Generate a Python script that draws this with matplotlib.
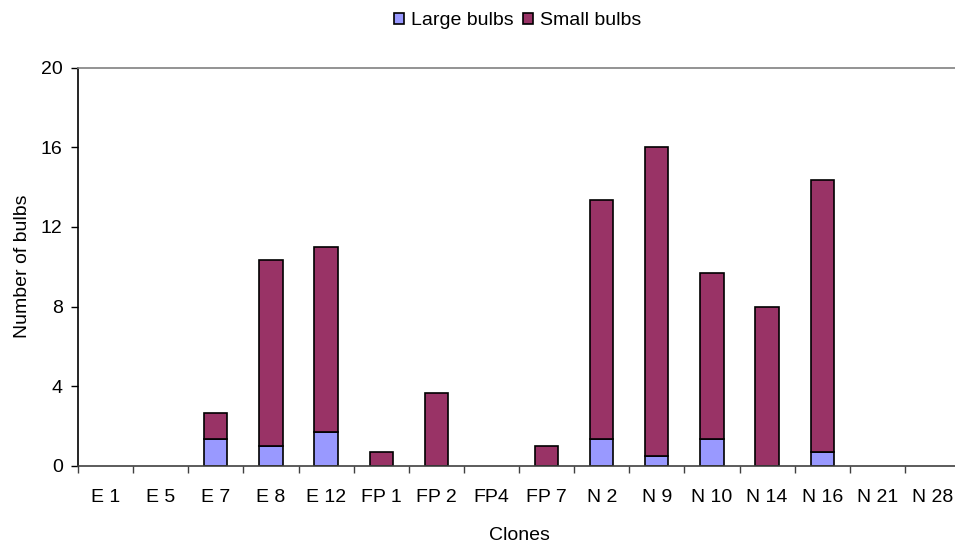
import matplotlib.pyplot as plt
import numpy as np

plt.rcParams['font.family'] = ['Liberation Sans', 'DejaVu Sans']

clones = ["E 1", "E 5", "E 7", "E 8", "E 12", "FP 1", "FP 2", "FP4", "FP 7",
          "N 2", "N 9", "N 10", "N 14", "N 16", "N 21", "N 28"]
large_bulbs = [0, 0, 1.33, 1.0, 1.67, 0, 0, 0, 0, 1.33, 0.5, 1.33, 0, 0.67, 0, 0]
small_bulbs = [0, 0, 1.33, 9.33, 9.33, 0.67, 3.67, 0, 1.0, 12.0, 15.5, 8.33, 8.0, 13.67, 0, 0]

fig = plt.figure(figsize=(9.55, 5.46), dpi=100)
# plot area runs a little past the right edge of the figure
ax = fig.add_axes([78 / 955, 80.3 / 546, 882 / 955, 398 / 546])

x = np.arange(len(clones))
lg = np.array(large_bulbs)
sm = np.array(small_bulbs)
w = 0.42
# skip empty segments so no outline sits on the axis
m = lg > 0
ax.bar(x[m], lg[m], w, color="#9999FF", edgecolor="black", linewidth=1.2,
       label="Large bulbs")
m = sm > 0
ax.bar(x[m], sm[m], w, bottom=lg[m], color="#993366", edgecolor="black",
       linewidth=1.2, label="Small bulbs")

ax.set_xlim(-0.5, len(clones) - 0.5)
ax.set_ylim(0, 20)
ax.set_yticks(np.arange(0, 21, 4))
ax.set_xticks(x)
ax.set_xticklabels(clones)
ax.set_xticks(np.arange(-0.5, len(clones)), minor=True)
ax.tick_params(axis="x", which="major", length=0, pad=17, labelsize=14)
ax.tick_params(axis="x", which="minor", length=5, width=1, color="#404040")
ax.tick_params(axis="y", length=5, width=1, pad=6, labelsize=14)

ax.spines["right"].set_visible(False)
ax.spines["top"].set_color("#808080")
ax.spines["bottom"].set_color("#404040")
ax.spines["left"].set_color("black")
for s in ax.spines.values():
    s.set_linewidth(1.2)

ax.set_ylabel("Number of bulbs", fontsize=14, labelpad=7)
ax.set_xlabel("Clones", fontsize=14, labelpad=15)

fig.legend(loc="upper center", bbox_to_anchor=(0.542, 1.01), ncol=2, frameon=False,
           fontsize=14, handlelength=0.5, handleheight=0.5, handletextpad=0.35,
           columnspacing=0.5)

fig.savefig("out.png", dpi=100)
